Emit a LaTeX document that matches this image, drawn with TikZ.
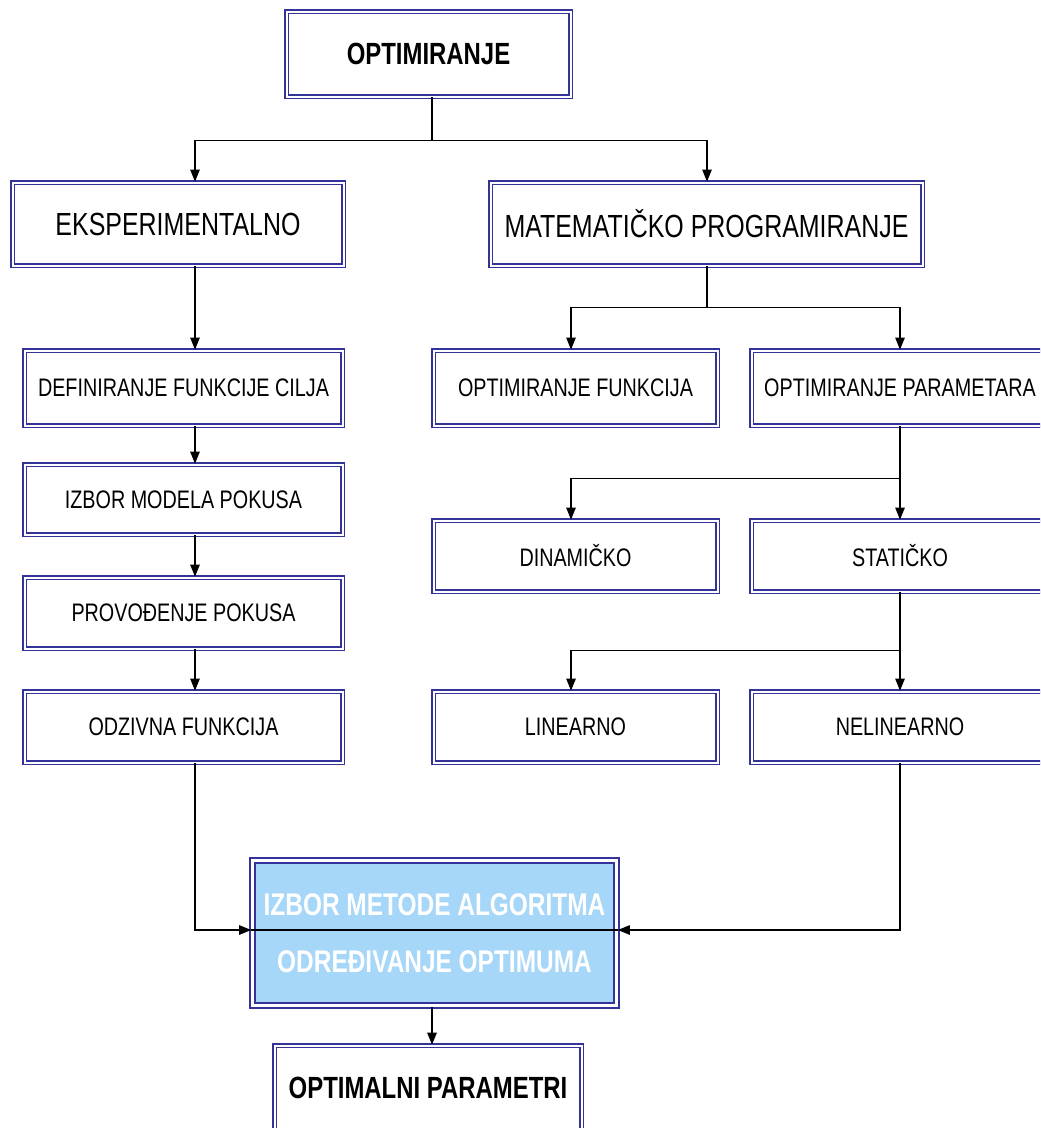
\documentclass[tikz,border=0pt]{standalone}
\usepackage{fontspec}
\setmainfont{Liberation Sans}
\newfontfamily\nf[FakeStretch=0.78]{Liberation Sans}
\usetikzlibrary{arrows.meta,calc}
\definecolor{dblue}{RGB}{51,51,153}
\definecolor{lblue}{RGB}{166,214,248}
\tikzset{
  box/.style={draw=dblue, double=white, double distance=1.5pt, line width=1.2pt,
    fill=white, inner sep=0pt, align=center},
  sz/.style 2 args={minimum width=#1*0.75pt, minimum height=#2*0.75pt},
  big/.style={font=\nf\fontsize{24pt}{28pt}\selectfont},
  small/.style={font=\nf\fontsize{19pt}{22pt}\selectfont},
  bold/.style={font=\nf\bfseries\fontsize{23pt}{27pt}\selectfont},
  conn/.style={line width=1.1pt, black},
  arr/.style={conn, -{Triangle[length=9pt,width=7pt]}},
  mainbox/.style={draw=dblue, double=white, double distance=1.6pt, line width=1.9pt,
    fill=lblue, inner sep=0pt, align=center, text=white,
    font=\nf\bfseries\fontsize{23.5pt}{43pt}\selectfont}
}
\begin{document}
\begin{tikzpicture}[x=0.75pt,y=-0.75pt]
\useasboundingbox (0,0) rectangle (1040,1128);
\clip (0,0) rectangle (1040,1128);
% nodes
\node[box,bold,sz={284}{85}] (opt) at (428.5,54) {OPTIMIRANJE};
\node[box,big,sz={331}{83}] (eks) at (178,224) {EKSPERIMENTALNO};
\node[box,big,sz={432}{83}] (mat) at (706.5,224) {MATEMATIČKO PROGRAMIRANJE};
\node[box,small,sz={318}{75}] (def) at (183.5,388) {DEFINIRANJE FUNKCIJE CILJA};
\node[box,small,sz={318}{70}] (izm) at (183.5,499.5) {IZBOR MODELA POKUSA};
\node[box,small,sz={318}{71}] (pro) at (183.5,613) {PROVOĐENJE POKUSA};
\node[box,small,sz={318}{71}] (odz) at (183.5,727) {ODZIVNA FUNKCIJA};
\node[box,small,sz={284}{75}] (of) at (575.5,388) {OPTIMIRANJE FUNKCIJA};
\node[box,small,sz={297}{75}] (op) at (900,388) {OPTIMIRANJE PARAMETARA};
\node[box,small,sz={284}{71}] (din) at (575.5,556) {DINAMIČKO};
\node[box,small,sz={297}{71}] (sta) at (900,556) {STATIČKO};
\node[box,small,sz={284}{71}] (lin) at (575.5,727) {LINEARNO};
\node[box,small,sz={297}{71}] (nel) at (900,727) {NELINEARNO};
\node[mainbox,sz={364}{145}] (izb) at (434.5,933) {IZBOR METODE ALGORITMA\\ODREĐIVANJE OPTIMUMA};
\node[box,bold,sz={307}{85}] (optp) at (428,1088) {OPTIMALNI PARAMETRI};
% connectors
\draw[conn] ($(opt.south)+(3.5,0)$) -- ++(0,43) coordinate (j1);
\draw[arr] (j1) -| ($(eks.north)+(17,0)$);
\draw[arr] (j1) -| ($(mat.north)+(0.5,0)$);
\draw[arr] ($(eks.south)+(17,0)$) -- ($(def.north)+(11.5,0)$);
\draw[arr] ($(def.south)+(11.5,0)$) -- ($(izm.north)+(11.5,0)$);
\draw[arr] ($(izm.south)+(11.5,0)$) -- ($(pro.north)+(11.5,0)$);
\draw[arr] ($(pro.south)+(11.5,0)$) -- ($(odz.north)+(11.5,0)$);
\draw[conn] ($(mat.south)+(0.5,0)$) -- ++(0,41) coordinate (j2);
\draw[arr] (j2) -| ($(of.north)+(-4.5,0)$);
\draw[arr] (j2) -| (op.north);
\draw[conn] (op.south) -- ++(0,52) coordinate (j3);
\draw[arr] (j3) -| ($(din.north)+(-4.5,0)$);
\draw[arr] (j3) -- (sta.north);
\draw[conn] (sta.south) -- ++(0,58) coordinate (j4);
\draw[arr] (j4) -| ($(lin.north)+(-4.5,0)$);
\draw[arr] (j4) -- (nel.north);
\draw[arr] ($(odz.south)+(11.5,0)$) |- ($(izb.west)+(0,-3)$);
\draw[arr] (nel.south) |- ($(izb.east)+(0,-3)$);
\draw[conn] ($(izb.west)+(0,-3)$) -- ($(izb.east)+(0,-3)$);
\draw[arr] ($(izb.south)+(-2.5,0)$) -- ($(optp.north)+(4,0)$);
\end{tikzpicture}
\end{document}
